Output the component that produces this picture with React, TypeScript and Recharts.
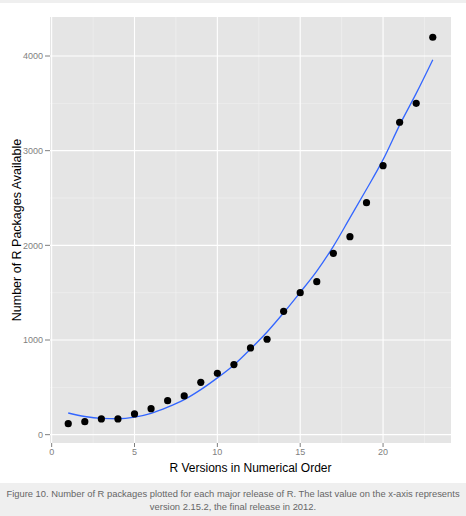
import React from "react";
import {
  CartesianGrid,
  ComposedChart,
  Label,
  Line,
  Scatter,
  XAxis,
  YAxis,
} from "recharts";

// R major releases in numerical order, packages available on CRAN
const versions = [1, 2, 3, 4, 5, 6, 7, 8, 9, 10, 11, 12, 13, 14, 15, 16, 17, 18, 19, 20, 21, 22, 23];
const packages = [
  116, 137, 166, 166, 219, 275, 359, 409, 553, 648, 740, 916, 1008, 1303, 1500, 1616, 1916, 2092,
  2451, 2842, 3300, 3500, 4198,
];
// loess smoother
const smooth = [
  229, 192, 172, 168, 185, 226, 290, 370, 476, 600, 737, 905, 1085, 1288, 1504, 1728, 1990, 2290,
  2592, 2905, 3270, 3605, 3960,
];

const xTicks = [0, 5, 10, 15, 20];
const xMinor = [2.5, 7.5, 12.5, 17.5, 22.5];
const yTicks = [0, 1000, 2000, 3000, 4000];
const yMinor = [500, 1500, 2500, 3500];

const captionLines = [
  "Figure 10. Number of R packages plotted for each major release of R. The last value on the x-axis represents",
  "version 2.15.2, the final release in 2012.",
];

const rows = versions.map((v, i) => ({ version: v, packages: packages[i], smooth: smooth[i] }));

const font = "Arial, 'Liberation Sans', sans-serif";
const tickStyle = { fontSize: 9, fill: "#7f7f7f", fontFamily: font };

function Dot(props: any) {
  const { cx, cy } = props;
  if (cx == null || cy == null) return null;
  return <circle cx={cx} cy={cy} r={3.6} fill="#000" />;
}

export default function App() {
  return (
    <div
      style={{
        position: "absolute",
        left: 0,
        top: 0,
        width: 466,
        height: 516,
        background: "#fff",
        fontFamily: font,
        overflow: "hidden",
      }}
    >
      <div style={{ position: "absolute", left: 0, top: 0, width: 466, height: 3, background: "#efefef" }} />
      <ComposedChart
        width={466}
        height={483}
        data={rows}
        margin={{ top: 17, right: 15, bottom: 0, left: 0 }}
        style={{ position: "absolute", left: 0, top: 0 }}
      >
        <CartesianGrid
          fill="#e5e5e5"
          stroke="#f2f2f2"
          strokeWidth={0.6}
          verticalValues={xMinor}
          horizontalValues={yMinor}
        />
        <CartesianGrid
          stroke="#ffffff"
          strokeWidth={1.1}
          verticalValues={xTicks}
          horizontalValues={yTicks}
        />
        <XAxis
          type="number"
          dataKey="version"
          domain={[-0.1, 24.1]}
          ticks={xTicks}
          allowDataOverflow
          axisLine={false}
          tickLine={{ stroke: "#7f7f7f" }}
          tickSize={4}
          tickMargin={2}
          tick={tickStyle}
          height={40}
        >
          <Label
            value="R Versions in Numerical Order"
            position="insideBottom"
            offset={11}
            style={{ fontSize: 12, fill: "#000", fontFamily: font }}
          />
        </XAxis>
        <YAxis
          type="number"
          domain={[-88, 4412]}
          ticks={yTicks}
          allowDataOverflow
          axisLine={false}
          tickLine={{ stroke: "#7f7f7f" }}
          tickSize={5}
          tickMargin={2}
          tick={tickStyle}
          width={50}
        >
          <Label
            value="Number of R Packages Available"
            angle={-90}
            position="insideLeft"
            offset={17}
            style={{ textAnchor: "middle", fontSize: 12.5, fill: "#000", fontFamily: font }}
          />
        </YAxis>
        <Line
          dataKey="smooth"
          type="monotone"
          stroke="#3366ff"
          strokeWidth={1.3}
          dot={false}
          activeDot={false}
          isAnimationActive={false}
        />
        <Scatter dataKey="packages" shape={<Dot />} isAnimationActive={false} />
      </ComposedChart>
      <div
        style={{
          position: "absolute",
          left: 0,
          top: 483,
          width: 466,
          height: 33,
          background: "#efefef",
          color: "#666",
          fontSize: 9.4,
          lineHeight: "12.5px",
          textAlign: "center",
          paddingTop: 5,
          boxSizing: "border-box",
          whiteSpace: "nowrap",
        }}
      >
        {captionLines.map((t) => (
          <div key={t}>{t}</div>
        ))}
      </div>
    </div>
  );
}
